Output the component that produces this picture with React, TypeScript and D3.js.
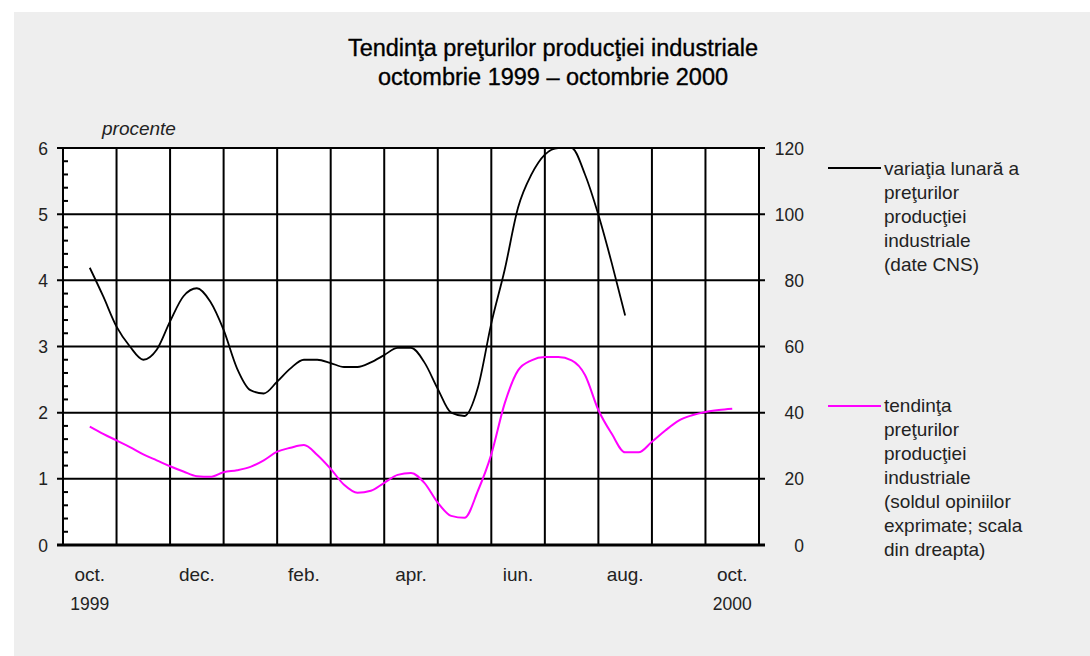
import React, { useEffect, useRef } from "react";
import * as d3 from "d3";

// luni (benzi pe axa x), eticheta doar la fiecare a doua
const months = ["oct.", "nov.", "dec.", "ian.", "feb.", "mar.", "apr.", "mai", "iun.", "iul.", "aug.", "sep.", "oct."];
const yearLabels = [
  { month: 0, text: "1999" },
  { month: 12, text: "2000" },
];
const leftTicks = [0, 1, 2, 3, 4, 5, 6];
const rightTicks = [0, 20, 40, 60, 80, 100, 120];

// cate un punct la ~o saptamana (1/4 luna), de la mijlocul lui oct. 1999
const variatiaLunara = [
  4.19, 3.76, 3.3, 3.0, 2.8, 2.95, 3.38, 3.76, 3.88, 3.68, 3.25, 2.67, 2.34, 2.29, 2.47, 2.67,
  2.8, 2.8, 2.75, 2.69, 2.69, 2.76, 2.87, 2.98, 2.98, 2.76, 2.36, 2.0, 1.95, 2.38, 3.35, 4.16,
  5.1, 5.6, 5.9, 6.0, 6.0, 5.6, 4.99, 4.26, 3.47,
];
// sold opinii, scala din dreapta
const tendinta = [
  35.8, 33.6, 31.6, 29.6, 27.4, 25.6, 23.8, 22.2, 20.8, 20.6, 22.0, 22.6, 23.6, 25.6, 28.2, 29.4,
  30.2, 27.2, 23.0, 18.2, 15.8, 16.4, 18.8, 21.2, 21.8, 18.8, 12.8, 8.8, 8.2, 16.4, 27.4, 42.8,
  52.8, 55.8, 56.8, 56.8, 55.8, 51.4, 40.8, 33.6, 28.0, 28.0, 31.2, 34.6, 37.6, 39.2, 40.2, 40.8,
  41.2,
];

const legend1 = ["variaţia lunară a", "preţurilor", "producţiei", "industriale", "(date CNS)"];
const legend2 = ["tendinţa", "preţurilor", "producţiei", "industriale", "(soldul opiniilor", "exprimate; scala", "din dreapta)"];

const W = 1090;
const H = 656;
const font = "'Liberation Sans', Arial, Helvetica, sans-serif";

export default function App() {
  const ref = useRef<SVGSVGElement | null>(null);

  useEffect(() => {
    if (!ref.current) return;
    const svg = d3.select(ref.current);
    svg.selectAll("*").remove();

    const left = 63, right = 759, top = 148, bottom = 545;

    const x = d3.scaleLinear().domain([-0.5, months.length - 0.5]).range([left, right]);
    const yL = d3.scaleLinear().domain([0, 6]).range([bottom, top]);
    const yR = d3.scaleLinear().domain([0, 120]).range([bottom, top]);

    svg.append("rect").attr("x", 14).attr("y", 12).attr("width", W - 14).attr("height", H - 12).attr("fill", "#eeeeee");

    // titlu
    const title = svg.append("text").attr("text-anchor", "middle").attr("font-family", font)
      .attr("font-size", 23.5).attr("fill", "#000").attr("stroke", "#000").attr("stroke-width", 0.35);
    title.append("tspan").attr("x", 553).attr("y", 56).text("Tendinţa preţurilor producţiei industriale");
    title.append("tspan").attr("x", 553).attr("y", 85).text("octombrie 1999 – octombrie 2000");

    svg.append("text").attr("x", 102).attr("y", 135).attr("font-family", font).attr("font-size", 19)
      .attr("font-style", "italic").attr("fill", "#222").text("procente");

    svg.append("rect").attr("x", left).attr("y", top).attr("width", right - left).attr("height", bottom - top).attr("fill", "#fff");

    const grid = svg.append("g").attr("stroke", "#000").attr("stroke-width", 2);
    // linii verticale la granitele lunilor
    grid.selectAll("line.v")
      .data(d3.range(months.length + 1).map(i => i - 0.5))
      .join("line")
      .attr("x1", d => x(d)).attr("x2", d => x(d))
      .attr("y1", top).attr("y2", bottom);
    grid.selectAll("line.h")
      .data(leftTicks)
      .join("line")
      .attr("x1", left - 6).attr("x2", right + 6)
      .attr("y1", d => yL(d)).attr("y2", d => yL(d));
    // tick-uri mici pe axa din stanga
    grid.selectAll("line.m")
      .data(d3.range(0, 6.01, 0.2).filter(v => Math.abs(v - Math.round(v)) > 0.01))
      .join("line")
      .attr("x1", left).attr("x2", left + 5)
      .attr("y1", d => yL(d)).attr("y2", d => yL(d));
    svg.append("line").attr("x1", left - 6).attr("x2", right + 6).attr("y1", bottom).attr("y2", bottom)
      .attr("stroke", "#000").attr("stroke-width", 3);

    const lbl = svg.append("g").attr("font-family", font).attr("font-size", 17.5).attr("fill", "#222");
    lbl.selectAll("text.l").data(leftTicks).join("text")
      .attr("x", 48).attr("y", d => yL(d) + 6.5).attr("text-anchor", "end").text(d => d);
    lbl.selectAll("text.r").data(rightTicks).join("text")
      .attr("x", 804).attr("y", d => yR(d) + 6.5).attr("text-anchor", "end").text(d => d);
    lbl.selectAll("text.m").data(months.map((m, i) => ({ m, i })).filter(d => d.i % 2 === 0)).join("text")
      .attr("x", d => x(d.i)).attr("y", 581).attr("text-anchor", "middle").attr("font-size", 19).text(d => d.m);
    lbl.selectAll("text.y").data(yearLabels).join("text")
      .attr("x", d => x(d.month)).attr("y", 610).attr("text-anchor", "middle").text(d => d.text);

    svg.append("clipPath").attr("id", "plot").append("rect")
      .attr("x", left).attr("y", top).attr("width", right - left).attr("height", bottom - top);

    const lineL = d3.line<number>().x((_, i) => x(i / 4)).y(d => yL(d)).curve(d3.curveMonotoneX);
    const lineR = d3.line<number>().x((_, i) => x(i / 4)).y(d => yR(d)).curve(d3.curveMonotoneX);

    svg.append("path").attr("d", lineR(tendinta)!).attr("fill", "none")
      .attr("stroke", "#ff00ff").attr("stroke-width", 2).attr("clip-path", "url(#plot)");
    svg.append("path").attr("d", lineL(variatiaLunara)!).attr("fill", "none")
      .attr("stroke", "#000").attr("stroke-width", 1.8).attr("clip-path", "url(#plot)");

    // legenda
    const leg = svg.append("g").attr("font-family", font).attr("font-size", 19).attr("fill", "#222");
    leg.append("line").attr("x1", 828).attr("x2", 881).attr("y1", 168).attr("y2", 168)
      .attr("stroke", "#000").attr("stroke-width", 2);
    leg.selectAll("text.a").data(legend1).join("text")
      .attr("x", 884).attr("y", (_, i) => 175 + i * 24).text(d => d);
    leg.append("line").attr("x1", 828).attr("x2", 881).attr("y1", 406).attr("y2", 406)
      .attr("stroke", "#ff00ff").attr("stroke-width", 2);
    leg.selectAll("text.b").data(legend2).join("text")
      .attr("x", 884).attr("y", (_, i) => 412 + i * 24).text(d => d);
  }, []);

  return (
    <div style={{ position: "absolute", left: 0, top: 0 }}>
      <svg ref={ref} width={W} height={H} style={{ display: "block" }} />
    </div>
  );
}
